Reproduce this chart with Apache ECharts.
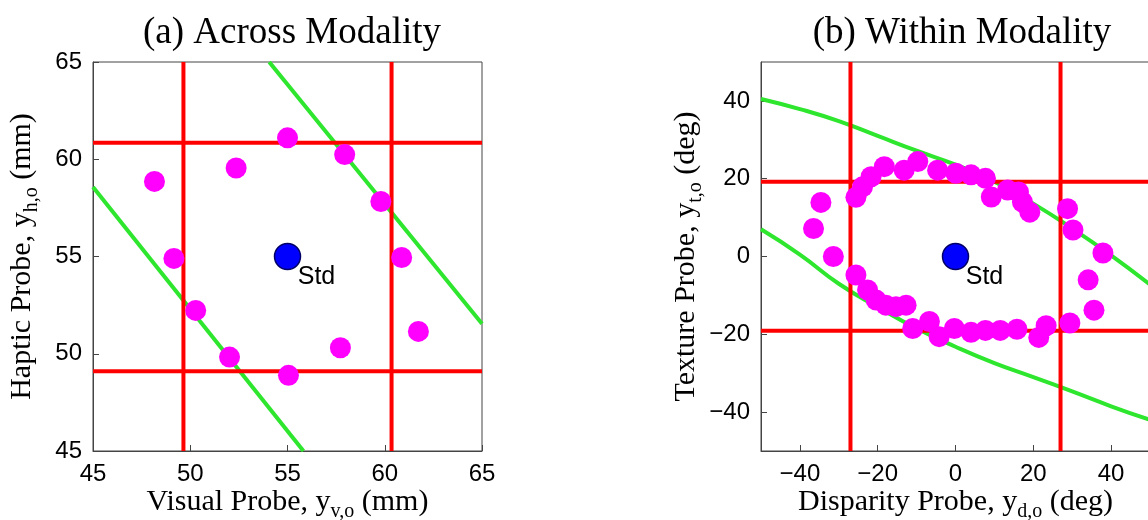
<!DOCTYPE html>
<html>
<head>
<meta charset="utf-8">
<script src="https://cdn.jsdelivr.net/npm/echarts@6/dist/echarts.min.js"></script>
<style>
html, body { margin: 0; padding: 0; background: #fff; }
#main { width: 1148px; height: 520px; }
</style>
</head>
<body>
<div id="main"></div>
<script>
// axis ranges and ticks
var rangeA = [45, 65];
var rangeB = [-50, 50];
var ticksB = [-40, -20, 0, 20, 40];

// standard stimulus
var stdA = [[55, 55]];
var stdB = [[0, 0]];

// red threshold lines
var redXA = [49.65, 60.35];
var redYA = [60.85, 49.1];
var redXB = [-27, 27];
var redYB = [19.2, -19.1];

// green boundary lines
var greenA1 = [[54.06, 65], [65, 51.54]];
var greenA2 = [[45, 58.57], [55.82, 45]];
var greenB1 = [[-50, 40.5], [-40, 37.9], [-30, 34.8], [-20, 31], [-10, 27.2], [0, 23.6],
               [10, 19.2], [20, 13.6], [30, 7.2], [40, 0.3], [50, -7.2]];
var greenB2 = [[-50, 7], [-40, 0.5], [-30, -7], [-20, -13], [-10, -18.5], [0, -23.2],
               [10, -27.4], [20, -31], [30, -34.7], [40, -38.5], [50, -42]];

// probe points
var probesA = [[48.16, 58.86], [52.36, 59.55], [55.0, 61.1], [57.94, 60.24], [59.8, 57.83],
               [49.16, 54.9], [60.87, 54.95], [50.28, 52.23], [52.02, 49.83], [55.05, 48.89],
               [57.72, 50.31], [61.73, 51.15]];
var probesB = [[-34.6, 13.9], [-36.5, 7.2], [-31.4, 0], [-25.6, 15.2], [-23.9, 17.9], [-21.7, 20.5],
               [-18.3, 23.1], [-13.2, 22.2], [-9.7, 24.4], [-4.6, 22.2], [0.1, 21.4],
               [4.0, 21.0], [7.7, 20.1], [9.2, 15.3], [13.4, 17.1], [16.2, 16.6], [17.2, 14.0],
               [19.1, 11.4], [28.8, 12.3], [30.2, 6.8], [37.9, 0.9], [34.1, -6.0], [35.6, -13.8],
               [29.4, -17.1],
               [-25.6, -4.75], [-22.6, -8.6], [-20.4, -11.2], [-17.9, -12.5], [-15.3, -12.9],
               [-12.7, -12.5], [-11.0, -18.5], [-6.7, -16.7], [-4.2, -20.6], [-0.3, -18.5],
               [4.0, -19.5], [7.7, -19.0], [11.5, -19.0], [15.8, -18.7], [21.4, -20.8], [23.3, -17.8]];

var serif = 'Liberation Serif, Times New Roman, serif';
var sans = 'Liberation Sans, Arial, sans-serif';

function axisName(main, sub, unit) {
    return '{t|' + main + '}{s|' + sub + '}{t| ' + unit + '}';
}
var nameStyle = {
    rich: {
        t: { fontFamily: serif, fontSize: 30, color: '#000', lineHeight: 34 },
        s: { fontFamily: serif, fontSize: 20, color: '#000', lineHeight: 20, padding: [19, 0, 0, 0] }
    }
};
function minus(v) { return String(v).replace('-', '\u2212'); }

var tickLabel = { fontFamily: sans, fontSize: 24, color: '#000', margin: 11, formatter: minus };
var tickMark = { show: true, inside: true, length: 6, lineStyle: { color: '#444' } };

function mkAxis(idx, range, opts) {
    var a = {
        gridIndex: idx,
        type: 'value',
        min: range[0],
        max: range[1],
        nameLocation: 'middle',
        nameTextStyle: nameStyle,
        axisLine: { show: true, onZero: false, lineStyle: { color: '#444', width: 1 } },
        axisTick: tickMark,
        axisLabel: tickLabel,
        splitLine: { show: false }
    };
    for (var k in opts) a[k] = opts[k];
    return a;
}

function vLines(xs, range, idx) {
    return xs.map(function (v) {
        return { type: 'line', xAxisIndex: idx, yAxisIndex: idx, symbol: 'none', silent: true,
                 lineStyle: { color: '#ff0000', width: 4 }, z: 3,
                 data: [[v, range[0]], [v, range[1]]] };
    });
}
function hLines(ys, range, idx) {
    return ys.map(function (v) {
        return { type: 'line', xAxisIndex: idx, yAxisIndex: idx, symbol: 'none', silent: true,
                 lineStyle: { color: '#ff0000', width: 4 }, z: 3,
                 data: [[range[0], v], [range[1], v]] };
    });
}
function green(d, idx) {
    return { type: 'line', xAxisIndex: idx, yAxisIndex: idx, symbol: 'none', smooth: true,
             silent: true, clip: true,
             lineStyle: { color: '#2ee62e', width: 4 }, z: 2, data: d };
}
function probes(d, idx) {
    return { type: 'scatter', xAxisIndex: idx, yAxisIndex: idx, symbolSize: 21,
             itemStyle: { color: '#ff00ff', opacity: 1 }, z: 4, data: d };
}
function std(d, idx) {
    return { type: 'scatter', xAxisIndex: idx, yAxisIndex: idx, symbolSize: 26, z: 5,
             itemStyle: { color: '#0000ff', borderColor: '#000066', borderWidth: 1.5, opacity: 1 },
             label: { show: true, formatter: 'Std', position: [24, 22], fontFamily: sans,
                      fontSize: 25, color: '#000' },
             data: d };
}

var chart = echarts.init(document.getElementById('main'));
var option = {
    animation: false,
    backgroundColor: '#fff',
    title: [
        { text: '(a) Across Modality', left: 287, top: 10, textAlign: 'center',
          textStyle: { fontFamily: serif, fontSize: 37, fontWeight: 'normal', color: '#000' } },
        { text: '(b) Within Modality', left: 957, top: 10, textAlign: 'center',
          textStyle: { fontFamily: serif, fontSize: 37, fontWeight: 'normal', color: '#000' } }
    ],
    grid: [
        { left: 93, top: 62, width: 389, height: 389, show: true, borderColor: '#444', borderWidth: 1,
          outerBoundsMode: 'none' },
        { left: 761, top: 62, width: 389, height: 389, show: true, borderColor: '#444', borderWidth: 1,
          outerBoundsMode: 'none' }
    ],
    xAxis: [
        mkAxis(0, rangeA, { interval: 5, name: axisName('Visual Probe, y', 'v,o', '(mm)'),
            nameGap: 34, nameMoveOverlap: false }),
        mkAxis(1, rangeB, { name: axisName('Disparity Probe, y', 'd,o', '(deg)'),
            nameGap: 34, nameMoveOverlap: false,
            axisLabel: Object.assign({ customValues: ticksB }, tickLabel),
            axisTick: Object.assign({ customValues: ticksB }, tickMark) })
    ],
    yAxis: [
        mkAxis(0, rangeA, { interval: 5, name: axisName('Haptic Probe, y', 'h,o', '(mm)'), nameGap: 54 }),
        mkAxis(1, rangeB, { name: axisName('Texture Probe, y', 't,o', '(deg)'), nameGap: 58,
            axisLabel: Object.assign({ customValues: ticksB }, tickLabel),
            axisTick: Object.assign({ customValues: ticksB }, tickMark) })
    ],
    series: [].concat(
        [green(greenA1, 0), green(greenA2, 0)],
        vLines(redXA, rangeA, 0), hLines(redYA, rangeA, 0),
        [probes(probesA, 0), std(stdA, 0)],
        [green(greenB1, 1), green(greenB2, 1)],
        vLines(redXB, rangeB, 1), hLines(redYB, rangeB, 1),
        [probes(probesB, 1), std(stdB, 1)]
    )
};
chart.setOption(option);
</script>
</body>
</html>
